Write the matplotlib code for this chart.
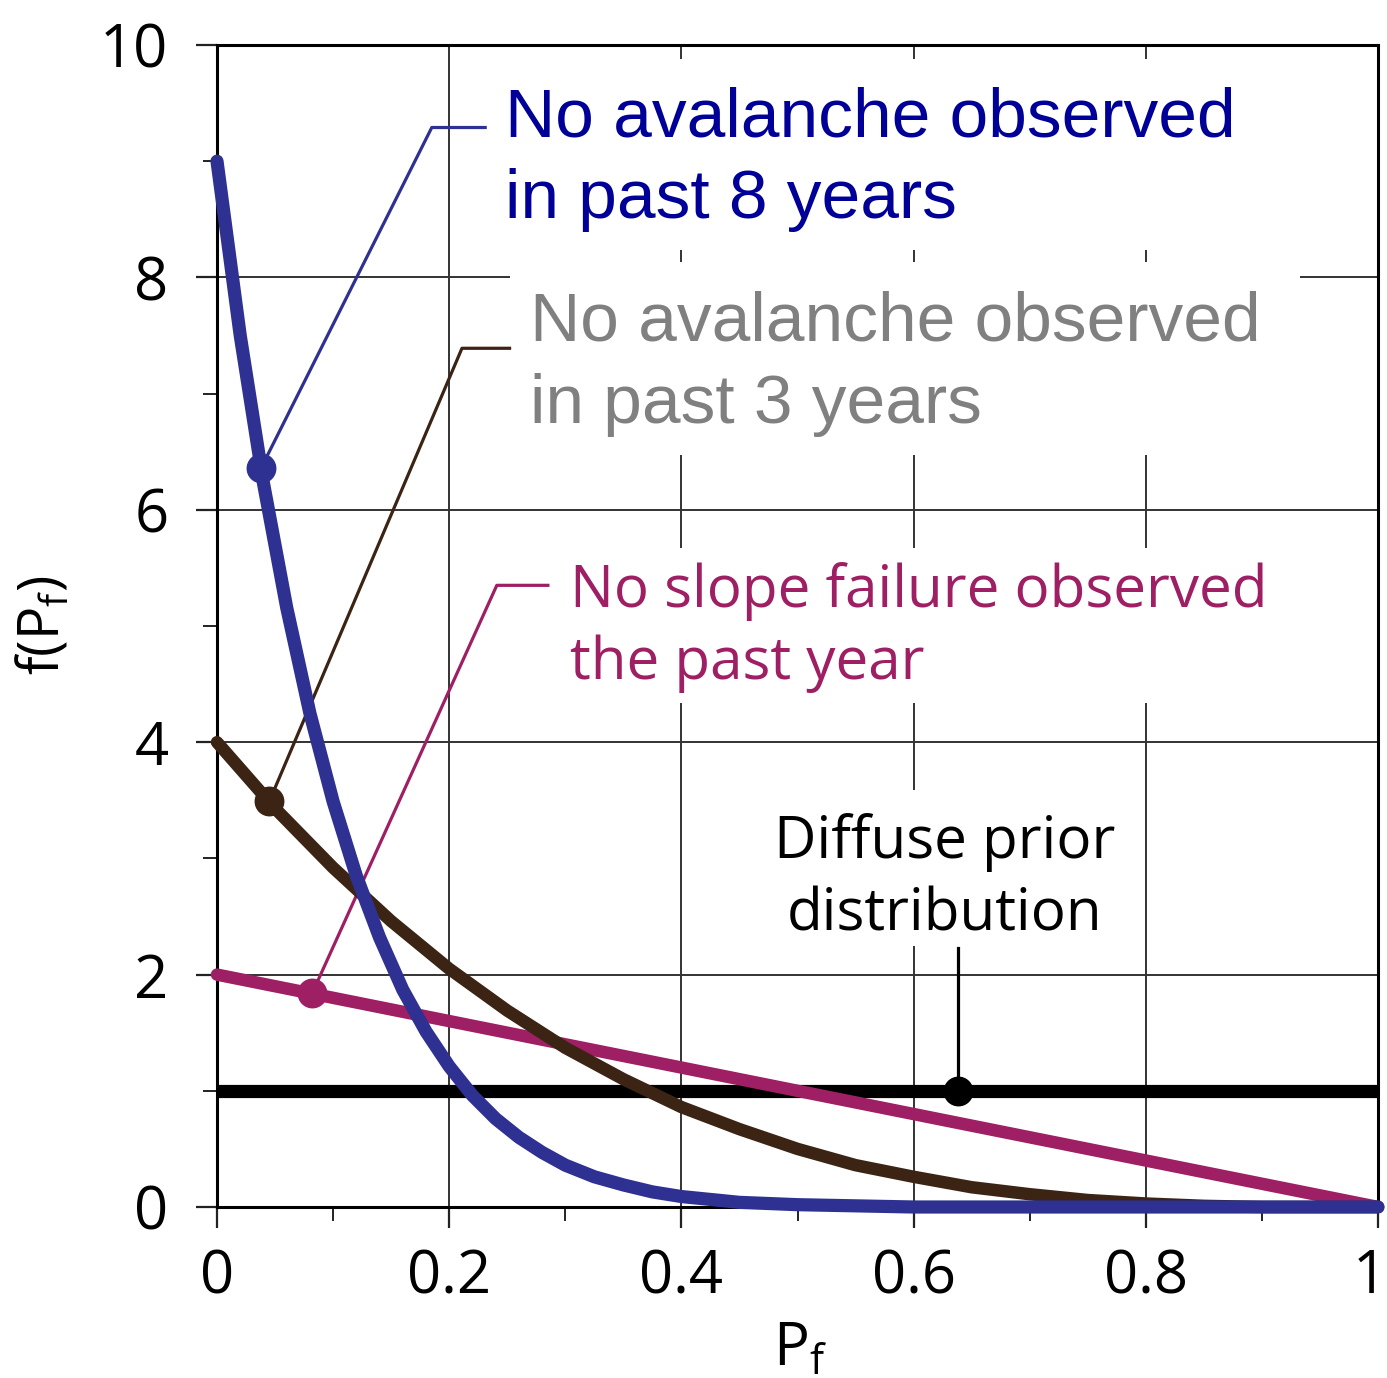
import matplotlib
matplotlib.use("Agg")
import matplotlib.pyplot as plt
import matplotlib.transforms as mtransforms
from matplotlib.patches import Rectangle
from matplotlib.ticker import MultipleLocator

# ---- data -------------------------------------------------------------
# "No avalanche observed in past 8 years"
p_blue = [0, 0.02, 0.04, 0.06, 0.08, 0.10, 0.12, 0.14, 0.16, 0.18, 0.20,
          0.22, 0.24, 0.26, 0.28, 0.30, 0.325, 0.35, 0.375, 0.40, 0.45,
          0.50, 0.60, 0.70, 0.80, 0.90, 1.0]
f_blue = [9.0, 7.50, 6.23, 5.16, 4.25, 3.49, 2.85, 2.32, 1.87, 1.51, 1.21,
          0.96, 0.76, 0.60, 0.47, 0.36, 0.26, 0.19, 0.13, 0.09, 0.04,
          0.02, 0.0, 0.0, 0.0, 0.0, 0.0]

# "No avalanche observed in past 3 years"
p_brown = [0, 0.05, 0.10, 0.15, 0.20, 0.25, 0.30, 0.35, 0.40, 0.45, 0.50,
           0.55, 0.60, 0.65, 0.70, 0.75, 0.80, 0.85, 0.90, 0.95, 1.0]
f_brown = [4.0, 3.43, 2.92, 2.46, 2.05, 1.69, 1.37, 1.10, 0.86, 0.67, 0.50,
           0.36, 0.26, 0.17, 0.11, 0.06, 0.03, 0.01, 0.0, 0.0, 0.0]

# "No slope failure observed the past year"
p_mag = [0, 1.0]
f_mag = [2.0, 0.0]

# Diffuse (uniform) prior
p_flat = [0, 1.0]
f_flat = [1.0, 1.0]

# label anchor points on each curve
anchor_p = [0.038, 0.045, 0.082, 0.638]
anchor_f = [6.36, 3.49, 1.84, 1.0]

x_ticks = [0, 0.2, 0.4, 0.6, 0.8, 1]
x_tick_labels = ["0", "0.2", "0.4", "0.6", "0.8", "1"]
y_ticks = [0, 2, 4, 6, 8, 10]
y_tick_labels = ["0", "2", "4", "6", "8", "10"]

# ---- style ------------------------------------------------------------
BLUE = "#2E3192"
BROWN = "#3C2415"
MAG = "#9E1F63"
BLACK = "#000000"
BLUE_TXT = "#000099"
GRAY_TXT = "#808080"

HUMANIST = ["Open Sans", "DejaVu Sans"]
ARIAL = ["Liberation Sans", "DejaVu Sans"]

W, H = 1387, 1378
fig = plt.figure(figsize=(W / 100, H / 100), dpi=100)
fig.patch.set_facecolor("white")

x0, x1, y_top, y_bot = 217, 1378, 45, 1207
ax = fig.add_axes([x0 / W, 1 - y_bot / H, (x1 - x0) / W, (y_bot - y_top) / H])
ax.set_xlim(0, 1)
ax.set_ylim(0, 10)

for s in ax.spines.values():
    s.set_linewidth(2.2)
    s.set_color("black")
    s.set_zorder(2)

ax.set_xticks(x_ticks)
ax.set_xticklabels(x_tick_labels, fontfamily=HUMANIST, fontsize=43)
ax.set_yticks(y_ticks)
ax.set_yticklabels(y_tick_labels, fontfamily=HUMANIST, fontsize=43)
ax.xaxis.set_minor_locator(MultipleLocator(0.1))
ax.yaxis.set_minor_locator(MultipleLocator(1))
ax.tick_params(which="major", direction="out", length=15, width=1.6,
               color="#222222", pad=14)
ax.tick_params(axis="y", which="major", pad=20)
ax.tick_params(which="minor", direction="out", length=10, width=1.4,
               color="#222222")
ax.grid(True, which="major", color="#333333", linewidth=1.4, zorder=0)
ax.set_axisbelow(True)

# keep the last x tick label inside the canvas
last = ax.get_xticklabels()[-1]
last.set_transform(last.get_transform() +
                   mtransforms.ScaledTranslation(-8 / 100, 0, fig.dpi_scale_trans))

# white panels behind the annotations
def panel(xa, ya, xb, yb):
    ax.add_patch(Rectangle((xa, ya), xb - xa, yb - ya, facecolor="white",
                           edgecolor="none", zorder=1.5))

panel(0.235, 8.24, 0.929, 9.88)
panel(0.252, 6.47, 0.933, 8.13)
panel(0.291, 4.34, 0.924, 5.67)
panel(0.476, 2.25, 0.778, 3.59)

# curves
ax.plot(p_flat, f_flat, color=BLACK, lw=9.5, solid_capstyle="butt",
        zorder=3, clip_on=False)
ax.plot(p_mag, f_mag, color=MAG, lw=9.0, solid_capstyle="round",
        zorder=4, clip_on=False)
ax.plot(p_brown, f_brown, color=BROWN, lw=9.0, solid_capstyle="round",
        solid_joinstyle="round", zorder=5, clip_on=False)
ax.plot(p_blue, f_blue, color=BLUE, lw=9.5, solid_capstyle="round",
        solid_joinstyle="round", zorder=6, clip_on=False)

# leader lines
lead_w = 2.3
ax.plot([anchor_p[0], 0.185, 0.231], [anchor_f[0], 9.29, 9.29],
        color=BLUE, lw=lead_w, zorder=2.6)
ax.plot([anchor_p[1], 0.211, 0.252], [anchor_f[1], 7.39, 7.39],
        color=BROWN, lw=lead_w, zorder=2.6)
ax.plot([anchor_p[2], 0.241, 0.285], [anchor_f[2], 5.35, 5.35],
        color=MAG, lw=lead_w, zorder=2.6)
ax.plot([anchor_p[3], anchor_p[3]], [anchor_f[3], 2.23],
        color=BLACK, lw=lead_w, zorder=2.6)

# anchor dots
for p, f, c, z in zip(anchor_p, anchor_f, [BLUE, BROWN, MAG, BLACK],
                      [6.5, 5.5, 4.5, 3.5]):
    ax.plot([p], [f], "o", color=c, ms=20.5, zorder=z, clip_on=False)

# annotation text
ax.text(0.248, 9.21, "No avalanche observed", color=BLUE_TXT,
        fontfamily=ARIAL, fontsize=50, va="baseline", zorder=7)
ax.text(0.248, 8.51, "in past 8 years", color=BLUE_TXT,
        fontfamily=ARIAL, fontsize=50, va="baseline", zorder=7)
ax.text(0.2696, 7.46, "No avalanche observed", color=GRAY_TXT,
        fontfamily=ARIAL, fontsize=50, va="baseline", zorder=7)
ax.text(0.2696, 6.75, "in past 3 years", color=GRAY_TXT,
        fontfamily=ARIAL, fontsize=50, va="baseline", zorder=7)
ax.text(0.304, 5.16, "No slope failure observed", color=MAG,
        fontfamily=HUMANIST, fontsize=42, va="baseline", zorder=7)
ax.text(0.304, 4.54, "the past year", color=MAG,
        fontfamily=HUMANIST, fontsize=42, va="baseline", zorder=7)
ax.text(0.627, 3.00, "Diffuse prior", color=BLACK, ha="center",
        fontfamily=HUMANIST, fontsize=42, va="baseline", zorder=7)
ax.text(0.627, 2.38, "distribution", color=BLACK, ha="center",
        fontfamily=HUMANIST, fontsize=42, va="baseline", zorder=7)

# axis titles
fig.text(800 / W, 1 - 1365 / H, r"$\mathregular{P_f}$", ha="center",
         va="baseline", fontfamily=HUMANIST, fontsize=43)
fig.text(45 / W, 1 - 625 / H, r"$\mathregular{f(P_f)}$", ha="center",
         va="center", rotation=90, fontfamily=HUMANIST, fontsize=40)

fig.savefig("out.png", dpi=100, facecolor="white")
